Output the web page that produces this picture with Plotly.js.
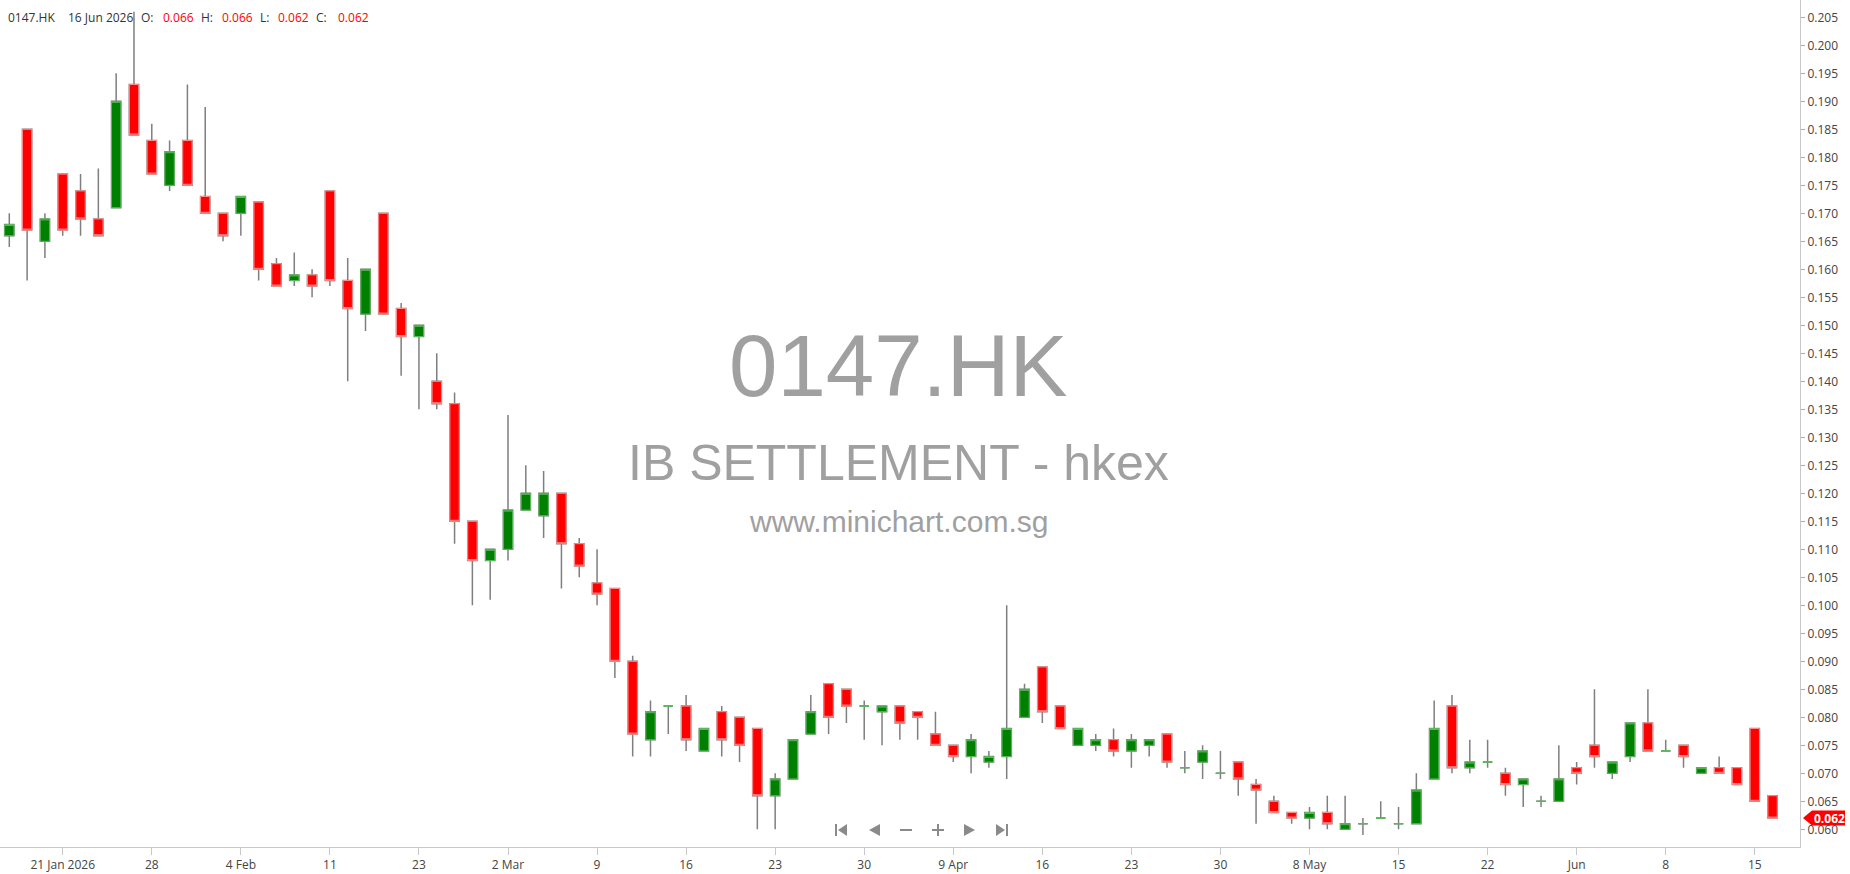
<!DOCTYPE html>
<html>
<head>
<meta charset="utf-8">
<script src="https://cdn.plot.ly/plotly-3.0.1.min.js"></script>
<style>
html, body { margin: 0; padding: 0; background: #fff; }
#chart { width: 1850px; height: 874px; }
</style>
</head>
<body>
<div id="chart"></div>
<script>
var symbol = "0147.HK";

var dates = [
    "2026-01-16", "2026-01-19", "2026-01-20", "2026-01-21", "2026-01-22", "2026-01-23",
    "2026-01-26", "2026-01-27", "2026-01-28", "2026-01-29", "2026-01-30",
    "2026-02-02", "2026-02-03", "2026-02-04", "2026-02-05", "2026-02-06",
    "2026-02-09", "2026-02-10", "2026-02-11", "2026-02-12", "2026-02-13",
    "2026-02-16", "2026-02-20",
    "2026-02-23", "2026-02-24", "2026-02-25", "2026-02-26", "2026-02-27",
    "2026-03-02", "2026-03-03", "2026-03-04", "2026-03-05", "2026-03-06",
    "2026-03-09", "2026-03-10", "2026-03-11", "2026-03-12", "2026-03-13",
    "2026-03-16", "2026-03-17", "2026-03-18", "2026-03-19", "2026-03-20",
    "2026-03-23", "2026-03-24", "2026-03-25", "2026-03-26", "2026-03-27",
    "2026-03-30", "2026-03-31", "2026-04-01", "2026-04-02", "2026-04-08",
    "2026-04-09", "2026-04-10", "2026-04-13", "2026-04-14", "2026-04-15",
    "2026-04-16", "2026-04-17", "2026-04-20", "2026-04-21", "2026-04-22",
    "2026-04-23", "2026-04-24", "2026-04-27", "2026-04-28", "2026-04-29",
    "2026-04-30", "2026-05-04", "2026-05-05", "2026-05-06", "2026-05-07",
    "2026-05-08", "2026-05-11", "2026-05-12", "2026-05-13", "2026-05-14",
    "2026-05-15", "2026-05-18", "2026-05-19", "2026-05-20", "2026-05-21",
    "2026-05-22", "2026-05-26", "2026-05-27", "2026-05-28", "2026-05-29",
    "2026-06-01", "2026-06-02", "2026-06-03", "2026-06-04", "2026-06-05",
    "2026-06-08", "2026-06-09", "2026-06-10", "2026-06-11", "2026-06-12",
    "2026-06-15", "2026-06-16",
];

var opens = [
    0.166, 0.185, 0.165, 0.177, 0.174, 0.169, 0.171, 0.193, 0.183, 0.175,
    0.183, 0.173, 0.170, 0.170, 0.172, 0.161, 0.158, 0.159, 0.174, 0.158,
    0.152, 0.170, 0.153, 0.148, 0.140, 0.136, 0.115, 0.108, 0.110, 0.117,
    0.116, 0.120, 0.111, 0.104, 0.103, 0.090, 0.076, 0.082, 0.082, 0.074,
    0.081, 0.080, 0.078, 0.066, 0.069, 0.077, 0.086, 0.085, 0.082, 0.081,
    0.082, 0.081, 0.077, 0.075, 0.073, 0.072, 0.073, 0.080, 0.089, 0.082,
    0.075, 0.075, 0.076, 0.074, 0.075, 0.077, 0.071, 0.072, 0.070, 0.072,
    0.068, 0.065, 0.063, 0.062, 0.063, 0.060, 0.061, 0.062, 0.061, 0.061,
    0.069, 0.082, 0.071, 0.072, 0.070, 0.068, 0.065, 0.065, 0.071, 0.075,
    0.070, 0.073, 0.079, 0.074, 0.075, 0.070, 0.071, 0.071, 0.078, 0.066,
];

var highs = [
    0.170, 0.185, 0.170, 0.177, 0.177, 0.178, 0.195, 0.206, 0.186, 0.183,
    0.193, 0.189, 0.170, 0.173, 0.172, 0.162, 0.163, 0.160, 0.174, 0.162,
    0.160, 0.170, 0.154, 0.150, 0.145, 0.138, 0.115, 0.110, 0.134, 0.125,
    0.124, 0.120, 0.112, 0.110, 0.103, 0.091, 0.083, 0.082, 0.084, 0.078,
    0.082, 0.080, 0.078, 0.070, 0.076, 0.084, 0.086, 0.085, 0.083, 0.082,
    0.082, 0.081, 0.081, 0.075, 0.077, 0.074, 0.100, 0.086, 0.089, 0.082,
    0.078, 0.077, 0.078, 0.077, 0.076, 0.077, 0.074, 0.075, 0.074, 0.072,
    0.069, 0.066, 0.063, 0.064, 0.066, 0.066, 0.062, 0.065, 0.064, 0.070,
    0.083, 0.084, 0.076, 0.076, 0.071, 0.069, 0.066, 0.075, 0.072, 0.085,
    0.072, 0.079, 0.085, 0.076, 0.075, 0.071, 0.073, 0.071, 0.078, 0.066,
];

var lows = [
    0.164, 0.158, 0.162, 0.166, 0.166, 0.166, 0.171, 0.184, 0.177, 0.174,
    0.175, 0.170, 0.165, 0.166, 0.158, 0.157, 0.157, 0.155, 0.157, 0.140,
    0.149, 0.152, 0.141, 0.135, 0.135, 0.111, 0.100, 0.101, 0.108, 0.117,
    0.112, 0.103, 0.105, 0.100, 0.087, 0.073, 0.073, 0.077, 0.074, 0.074,
    0.073, 0.072, 0.060, 0.060, 0.069, 0.077, 0.077, 0.079, 0.076, 0.075,
    0.076, 0.076, 0.075, 0.072, 0.070, 0.071, 0.069, 0.080, 0.079, 0.078,
    0.075, 0.074, 0.073, 0.071, 0.073, 0.071, 0.070, 0.069, 0.069, 0.066,
    0.061, 0.063, 0.061, 0.060, 0.060, 0.060, 0.059, 0.062, 0.060, 0.061,
    0.069, 0.070, 0.070, 0.071, 0.066, 0.064, 0.064, 0.065, 0.068, 0.071,
    0.069, 0.072, 0.074, 0.074, 0.071, 0.070, 0.070, 0.068, 0.065, 0.062,
];

var closes = [
    0.168, 0.167, 0.169, 0.167, 0.169, 0.166, 0.190, 0.184, 0.177, 0.181,
    0.175, 0.170, 0.166, 0.173, 0.160, 0.157, 0.159, 0.157, 0.158, 0.153,
    0.160, 0.152, 0.148, 0.150, 0.136, 0.115, 0.108, 0.110, 0.117, 0.120,
    0.120, 0.111, 0.107, 0.102, 0.090, 0.077, 0.081, 0.082, 0.076, 0.078,
    0.076, 0.075, 0.066, 0.069, 0.076, 0.081, 0.080, 0.082, 0.082, 0.082,
    0.079, 0.080, 0.075, 0.073, 0.076, 0.073, 0.078, 0.085, 0.081, 0.078,
    0.078, 0.076, 0.074, 0.076, 0.076, 0.072, 0.071, 0.074, 0.070, 0.069,
    0.067, 0.063, 0.062, 0.063, 0.061, 0.061, 0.061, 0.062, 0.061, 0.067,
    0.078, 0.071, 0.072, 0.072, 0.068, 0.069, 0.065, 0.069, 0.070, 0.073,
    0.072, 0.079, 0.074, 0.074, 0.073, 0.071, 0.070, 0.068, 0.065, 0.062,
];

var tickDates = [
    "2026-01-21", "2026-01-28", "2026-02-04", "2026-02-11", "2026-02-23",
    "2026-03-02", "2026-03-09", "2026-03-16", "2026-03-23", "2026-03-30",
    "2026-04-09", "2026-04-16", "2026-04-23", "2026-04-30", "2026-05-08",
    "2026-05-15", "2026-05-22", "2026-06-01", "2026-06-08", "2026-06-15",
];
var tickLabels = [
    "21 Jan 2026", "28", "4 Feb", "11", "23",
    "2 Mar", "9", "16", "23", "30",
    "9 Apr", "16", "23", "30", "8 May",
    "15", "22", "Jun", "8", "15",
];

var watermark = ["0147.HK", "IB SETTLEMENT - hkex", "www.minichart.com.sg"];


var PLOT_H = 847;
var PLOT_W = 1800;
var yRange = [0.05684, 0.20809];

function paperX(px) { return px / PLOT_W; }
function paperY(py) { return (PLOT_H - py) / PLOT_H; }

// split bodies by colour ourselves so dojis stay green
var up = {x: [], o: [], c: [], h: [], l: []};
var down = {x: [], o: [], c: [], h: [], l: []};
for (var i = 0; i < dates.length; i++) {
    var side = closes[i] >= opens[i] ? up : down;
    side.x.push(dates[i]);
    side.o.push(opens[i]);
    side.c.push(closes[i]);
    side.h.push(Math.max(opens[i], closes[i]));
    side.l.push(Math.min(opens[i], closes[i]));
}

function candleStyle(line, fill, w) {
    return {line: {color: line, width: w}, fillcolor: fill};
}

var wicks = {
    type: "candlestick",
    x: dates, open: opens, high: highs, low: lows, close: closes,
    increasing: candleStyle("#7f7f7f", "#7f7f7f", 1.5),
    decreasing: candleStyle("#7f7f7f", "#7f7f7f", 1.5),
    whiskerwidth: 0,
    hoverinfo: "skip",
    showlegend: false,
};

function bodyTrace(s, line, fill) {
    return {
        type: "candlestick",
        x: s.x, open: s.o, high: s.h, low: s.l, close: s.c,
        increasing: candleStyle(line, fill, 1),
        decreasing: candleStyle(line, fill, 1),
        whiskerwidth: 0,
        hoverinfo: "skip",
        showlegend: false,
    };
}

var data = [
    wicks,
    bodyTrace(up, "#5cb85c", "#008000"),
    bodyTrace(down, "#ff8c8c", "#ff0000"),
];

var last = dates.length - 1;
var lastDown = closes[last] < opens[last];
var valColor = lastDown ? "#ff0000" : "#008000";

function fmt(v) { return v.toFixed(3); }

// header line: label, x pixel, colour
var d = new Date(dates[last] + "T00:00:00");
var months = ["Jan", "Feb", "Mar", "Apr", "May", "Jun", "Jul", "Aug", "Sep", "Oct", "Nov", "Dec"];
var headerText = [
    symbol,
    d.getDate() + " " + months[d.getMonth()] + " " + d.getFullYear(),
    "O:", fmt(opens[last]),
    "H:", fmt(highs[last]),
    "L:", fmt(lows[last]),
    "C:", fmt(closes[last]),
];
var headerX = [6, 66, 139, 161, 199, 220, 258, 276, 314, 336];
var headerCol = ["#333", "#333", "#333", valColor, "#333", valColor, "#333", valColor, "#333", valColor];

var annotations = [];
for (var k = 0; k < headerText.length; k++) {
    annotations.push({
        xref: "paper", yref: "paper",
        x: paperX(headerX[k]), y: paperY(18),
        xanchor: "left", yanchor: "middle",
        text: headerText[k], showarrow: false,
        font: {family: "Open Sans", size: 12, color: headerCol[k]},
    });
}

var wmY = [365, 463, 521];
var wmSize = [87, 50, 30];
for (var k = 0; k < watermark.length; k++) {
    annotations.push({
        xref: "paper", yref: "paper",
        x: paperX(898), y: paperY(wmY[k]),
        xanchor: "center", yanchor: "middle",
        text: watermark[k], showarrow: false,
        font: {family: "Liberation Sans", size: wmSize[k], color: "#a0a0a0"},
    });
}

// last price tag
annotations.push({
    xref: "paper", yref: "y",
    x: 1, y: closes[last],
    xanchor: "left", yanchor: "middle", xshift: 12,
    text: "<b>" + fmt(closes[last]) + "</b>", showarrow: false,
    font: {family: "Open Sans", size: 12, color: "#ffffff"},
});

var tagY = (closes[last] - yRange[0]) / (yRange[1] - yRange[0]);

function pixelShape(cx, cy, path, color) {
    return {
        type: "path",
        xref: "paper", yref: "paper",
        xsizemode: "pixel", ysizemode: "pixel",
        xanchor: cx, yanchor: cy,
        path: path,
        fillcolor: color,
        line: {width: 0},
        layer: "above",
    };
}

var navY = paperY(830);
var shapes = [
    pixelShape(1, tagY, "M 3,0 L 12,-7.5 L 45,-7.5 L 45,7.5 L 12,7.5 Z", "#ff0000"),
    pixelShape(paperX(841), navY, "M -6,-6 L -4,-6 L -4,6 L -6,6 Z M -3,0 L 6,-6 L 6,6 Z", "#8a8a8a"),
    pixelShape(paperX(874), navY, "M -5,0 L 6,-6 L 6,6 Z", "#8a8a8a"),
    pixelShape(paperX(906), navY, "M -6,-1 L 6,-1 L 6,1 L -6,1 Z", "#8a8a8a"),
    pixelShape(paperX(938), navY, "M -6,-1 L -1,-1 L -1,-6 L 1,-6 L 1,-1 L 6,-1 L 6,1 L 1,1 L 1,6 L -1,6 L -1,1 L -6,1 Z", "#8a8a8a"),
    pixelShape(paperX(970), navY, "M 5,0 L -6,-6 L -6,6 Z", "#8a8a8a"),
    pixelShape(paperX(1002), navY, "M 6,-6 L 4,-6 L 4,6 L 6,6 Z M 3,0 L -6,-6 L -6,6 Z", "#8a8a8a"),
];

var layout = {
    width: 1850,
    height: 874,
    margin: {l: 0, r: 50, t: 0, b: 27, pad: 0},
    paper_bgcolor: "#ffffff",
    plot_bgcolor: "#ffffff",
    showlegend: false,
    hovermode: false,
    dragmode: false,
    boxmode: "overlay",
    boxgap: 0.25,
    font: {family: "Open Sans", size: 12, color: "#444"},
    xaxis: {
        type: "category",
        categoryorder: "array",
        categoryarray: dates,
        range: [-0.522, 100.54],
        tickmode: "array",
        tickvals: tickDates,
        ticktext: tickLabels,
        ticks: "outside",
        ticklen: 7,
        tickcolor: "#c8c8c8",
        showline: true,
        linecolor: "#c8c8c8",
        linewidth: 1,
        showgrid: false,
        zeroline: false,
        rangeslider: {visible: false},
        tickfont: {family: "Open Sans", size: 12, color: "#444"},
        fixedrange: true,
    },
    yaxis: {
        side: "right",
        range: yRange,
        tick0: 0.060,
        dtick: 0.005,
        tickformat: ".3f",
        ticks: "outside",
        ticklen: 4,
        tickcolor: "#aaaaaa",
        showline: true,
        linecolor: "#c8c8c8",
        linewidth: 1,
        showgrid: false,
        zeroline: false,
        tickfont: {family: "Open Sans", size: 12, color: "#444"},
        fixedrange: true,
    },
    annotations: annotations,
    shapes: shapes,
};

Plotly.newPlot("chart", data, layout, {displayModeBar: false, staticPlot: true});
</script>
</body>
</html>
